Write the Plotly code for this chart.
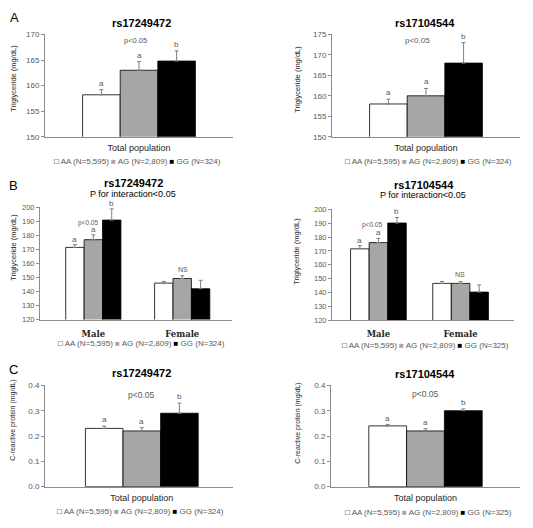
import plotly.graph_objects as go

W, H = 533, 528

genotypes = ["AA", "AG", "GG"]
bar_colors = ["#ffffff", "#a6a6a6", "#000000"]

# ---------------- data ----------------
# Panel A: triglyceride, total population
a1_cats = ["Total population"]
a1_vals = [[158.2], [163.0], [164.8]]
a1_err = [[1.0], [1.7], [2.0]]
a1_letters = [["a"], ["a"], ["b"]]

a2_cats = ["Total population"]
a2_vals = [[158.0], [160.0], [168.0]]
a2_err = [[1.2], [1.8], [5.0]]
a2_letters = [["a"], ["a"], ["b"]]

# Panel B: triglyceride by sex
b_cats = ["Male", "Female"]
b1_vals = [[171.5, 146.0], [177.0, 149.3], [191.0, 142.0]]
b1_err = [[2.0, 1.2], [3.5, 2.0], [8.0, 6.0]]
b1_letters = [["a", ""], ["a", ""], ["b", ""]]

b2_vals = [[171.5, 146.5], [176.0, 146.5], [190.2, 140.2]]
b2_err = [[2.3, 1.4], [3.0, 1.4], [4.0, 5.2]]
b2_letters = [["a", ""], ["a", ""], ["b", ""]]

# Panel C: C-reactive protein
c1_cats = ["Total population"]
c1_vals = [[0.23], [0.22], [0.29]]
c1_err = [[0.009], [0.013], [0.040]]
c1_letters = [["a"], ["a"], ["b"]]

c2_cats = ["Total population"]
c2_vals = [[0.24], [0.22], [0.30]]
c2_err = [[0.005], [0.009], [0.007]]
c2_letters = [["a"], ["a"], ["b"]]

legend_n_left = ["5,595", "2,809", "324"]
legend_n_right_B = ["5,595", "2,809", "325"]

# ---------------- layout helpers ----------------
def pxx(x):
    return x / W


def pxy(y):
    return 1 - y / H


panels = [
    dict(cats=a1_cats, vals=a1_vals, err=a1_err, let=a1_letters, xd=(45, 233), yd=(31, 135),
         yr=(150, 170), dt=5, fmt="d", xr=(-0.5, 0.5), bw=0.2, serif=False, tfs=8, lshift=0),
    dict(cats=a2_cats, vals=a2_vals, err=a2_err, let=a2_letters, xd=(332, 520), yd=(31, 135),
         yr=(150, 175), dt=5, fmt="d", xr=(-0.5, 0.5), bw=0.2, serif=False, tfs=8, lshift=0),
    dict(cats=b_cats, vals=b1_vals, err=b1_err, let=b1_letters, xd=(40, 232), yd=(207, 321),
         yr=(120, 200), dt=10, fmt="d", xr=(-0.6, 1.56), bw=0.207, serif=True, tfs=7.5, lshift=-1),
    dict(cats=b_cats, vals=b2_vals, err=b2_err, let=b2_letters, xd=(332, 514), yd=(209, 321.5),
         yr=(120, 200), dt=10, fmt="d", xr=(-0.565, 1.65), bw=0.226, serif=True, tfs=7.5, lshift=-1),
    dict(cats=c1_cats, vals=c1_vals, err=c1_err, let=c1_letters, xd=(45, 233), yd=(388, 491),
         yr=(0, 0.4), dt=0.1, fmt=".1f", xr=(-0.515, 0.485), bw=0.2, serif=False, tfs=8, lshift=0),
    dict(cats=c2_cats, vals=c2_vals, err=c2_err, let=c2_letters, xd=(331, 520), yd=(388, 491),
         yr=(0, 0.4), dt=0.1, fmt=".1f", xr=(-0.5, 0.5), bw=0.2, serif=False, tfs=8, lshift=0),
]

fig = go.Figure()
annotations = []
layout_axes = {}

TEXT_GRAY = "#595959"
AXIS_GRAY = "#8c8c8c"

for k, p in enumerate(panels, start=1):
    xa = "x" if k == 1 else f"x{k}"
    ya = "y" if k == 1 else f"y{k}"
    n = len(p["cats"])
    for g in range(3):
        xs = [ci + (g - 1) * p["bw"] for ci in range(n)]
        fig.add_trace(go.Bar(
            x=xs, y=p["vals"][g], width=p["bw"],
            marker=dict(color=bar_colors[g], line=dict(color="#000000", width=0.8)),
            error_y=dict(type="data", symmetric=False, array=p["err"][g], arrayminus=[0] * n,
                         color="#7f7f7f", thickness=1, width=2),
            xaxis=xa, yaxis=ya, showlegend=False, hoverinfo="skip", name=genotypes[g],
        ))
        for ci in range(n):
            t = p["let"][g][ci]
            if t:
                annotations.append(dict(
                    x=xs[ci], y=p["vals"][g][ci] + p["err"][g][ci], xref=xa, yref=ya,
                    text=t, showarrow=False, yanchor="bottom", yshift=p["lshift"],
                    font=dict(family="Liberation Sans", size=8, color=TEXT_GRAY)))
    if p["serif"]:
        ticktext = [f"<b>{c}</b>" for c in p["cats"]]
        tickfont = dict(family="DejaVu Serif", size=8.5, color="#262626")
        standoff = 6
    else:
        ticktext = p["cats"]
        tickfont = dict(family="Liberation Sans", size=9, color="#262626")
        standoff = 3
    layout_axes["xaxis" if k == 1 else f"xaxis{k}"] = dict(
        domain=[pxx(p["xd"][0]), pxx(p["xd"][1])], range=list(p["xr"]), anchor=ya,
        tickvals=list(range(n)), ticktext=ticktext, tickfont=tickfont,
        ticklabelstandoff=standoff,
        showline=True, linecolor=AXIS_GRAY, linewidth=1, ticks="", showgrid=False,
        zeroline=False, fixedrange=True)
    layout_axes["yaxis" if k == 1 else f"yaxis{k}"] = dict(
        domain=[pxy(p["yd"][1]), pxy(p["yd"][0])], range=list(p["yr"]), anchor=xa,
        dtick=p["dt"], tick0=0, tickformat=p["fmt"],
        tickfont=dict(family="Liberation Sans", size=p["tfs"], color=TEXT_GRAY),
        showline=True, linecolor=AXIS_GRAY, linewidth=1, ticks="outside", ticklen=3,
        tickcolor=AXIS_GRAY, showgrid=False, zeroline=False, fixedrange=True)


def txt(x, y, text, size, color="#000000", family="Liberation Sans", angle=0):
    annotations.append(dict(x=pxx(x), y=pxy(y), xref="paper", yref="paper", text=text,
                            showarrow=False, xanchor="center", yanchor="middle",
                            textangle=angle, font=dict(family=family, size=size, color=color)))


# panel letters
txt(14, 14, "A", 13)
txt(13, 185, "B", 13)
txt(13, 372, "C", 13)

# titles
txt(141, 19, "<b>rs17249472</b>", 11)
txt(425, 19, "<b>rs17104544</b>", 11)
txt(133, 182, "<b>rs17249472</b>", 11)
txt(133, 193, "P for interaction&lt;0.05", 9)
txt(424, 184, "<b>rs17104544</b>", 11)
txt(423, 194.5, "P for interaction&lt;0.05", 9)
txt(141, 375, "<b>rs17249472</b>", 11)
txt(425, 376, "<b>rs17104544</b>", 11)

# p-values / NS
txt(135, 37, "p&lt;0.05", 7.5, TEXT_GRAY)
txt(417, 37, "p&lt;0.05", 8, TEXT_GRAY)
txt(88, 223, "p&lt;0.05", 6.5, TEXT_GRAY)
txt(372, 225, "p&lt;0.05", 6.5, TEXT_GRAY)
txt(183, 270, "NS", 7, TEXT_GRAY)
txt(460, 275, "NS", 7, TEXT_GRAY)
txt(141, 398, "p&lt;0.05", 8.5, TEXT_GRAY)
txt(425, 397, "p&lt;0.05", 8.5, TEXT_GRAY)

# y-axis titles
NARROW = "Liberation Sans Narrow, Arial Narrow, Liberation Sans"
txt(14, 76, "Triglyceride (mg/dL)", 7.5, "#262626", NARROW, -90)
txt(298, 77, "Triglyceride (mg/dL)", 7.5, "#262626", NARROW, -90)
txt(14, 248, "Triglyceride (mg/dL)", 7.5, "#262626", NARROW, -90)
txt(297, 252, "Triglyceride (mg/dL)", 7.5, "#262626", NARROW, -90)
txt(13, 424, "C-reactive protein (mg/dL)", 7, "#262626", NARROW, -90)
txt(298, 427, "C-reactive protein (mg/dL)", 7, "#262626", NARROW, -90)


def legend_text(ns):
    sw = ["<span style='color:#000000'>□</span>",
          "<span style='color:#a6a6a6'>■</span>",
          "<span style='color:#000000'>■</span>"]
    parts = [f"{sw[i]} {genotypes[i]} (N={ns[i]})" for i in range(3)]
    return " ".join(parts)


txt(137, 160, legend_text(legend_n_left), 8, TEXT_GRAY)
txt(428, 160, legend_text(legend_n_left), 8, TEXT_GRAY)
txt(141, 345, legend_text(legend_n_left), 8, TEXT_GRAY)
txt(425, 347, legend_text(legend_n_right_B), 8, TEXT_GRAY)
txt(140, 516, legend_text(legend_n_left), 8, TEXT_GRAY)
txt(428, 517, legend_text(legend_n_right_B), 8, TEXT_GRAY)

fig.update_layout(
    width=W, height=H, margin=dict(l=0, r=0, t=0, b=0),
    paper_bgcolor="#ffffff", plot_bgcolor="#ffffff",
    barmode="overlay", showlegend=False, annotations=annotations,
    **layout_axes,
)

fig.write_html("out.html", config={"displayModeBar": False},
               post_script="document.body.style.margin='0';")
